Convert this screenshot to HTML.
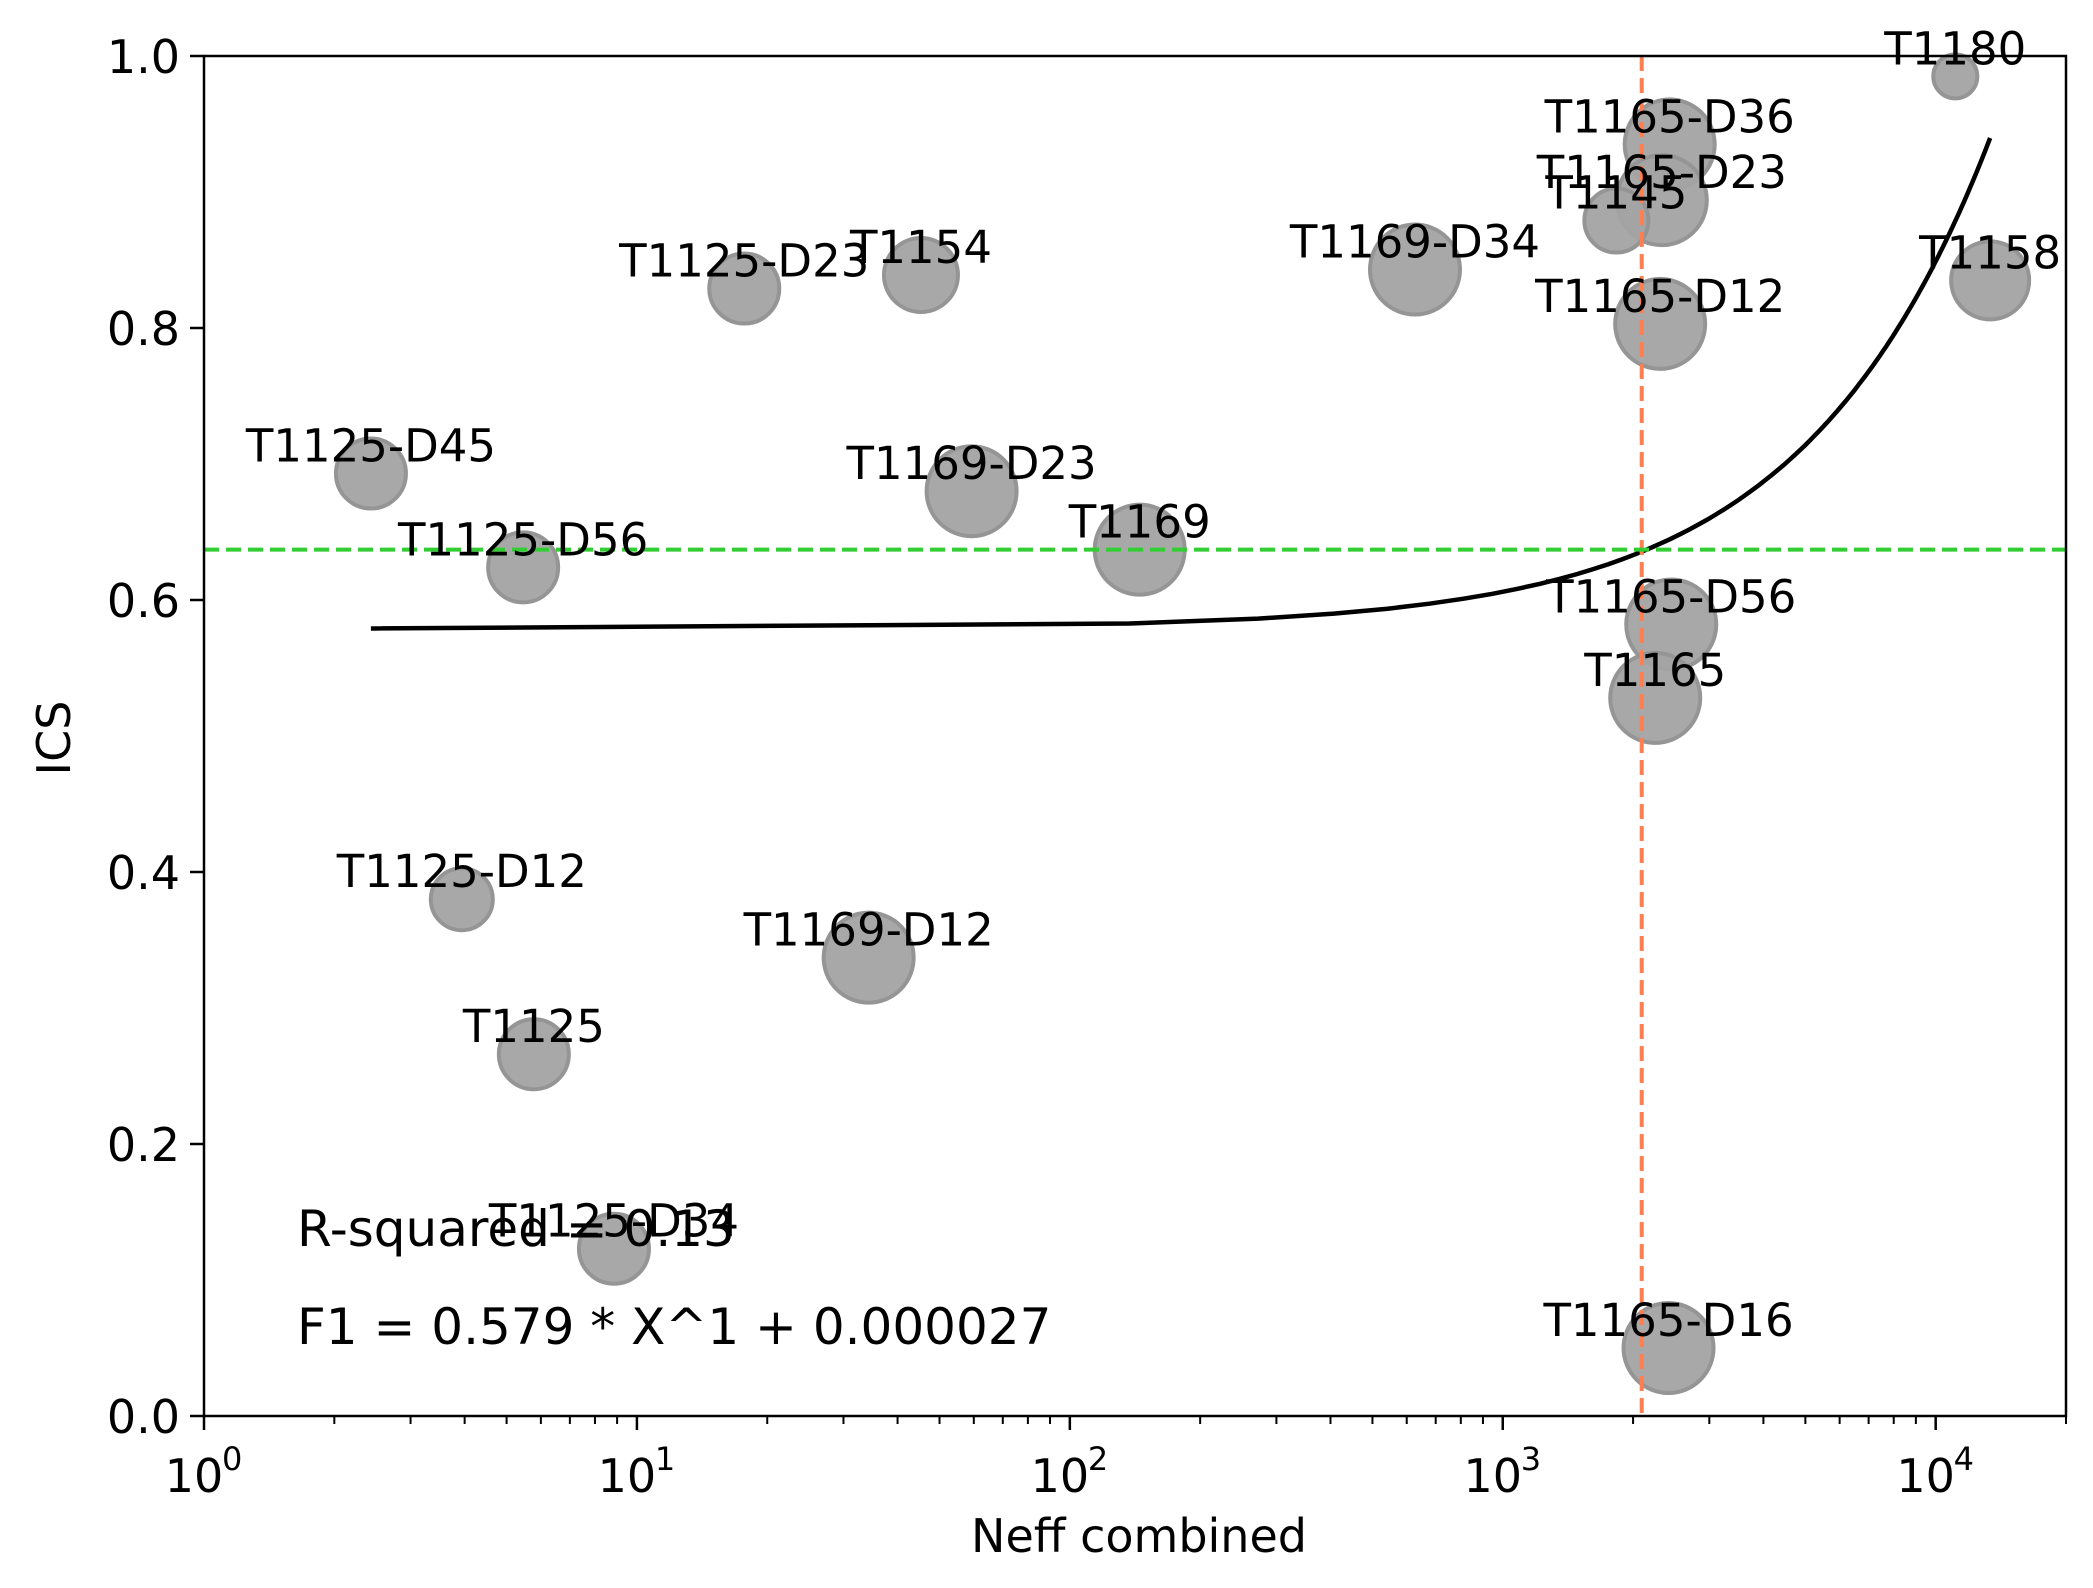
<!DOCTYPE html>
<html><head><meta charset="utf-8"><style>
html,body{margin:0;padding:0;background:#fff;}
svg{display:block;font-family:"DejaVu Sans","Liberation Sans",sans-serif;}
</style></head><body>
<svg id="chart" width="2093" height="1588" viewBox="0 0 2093 1588" xmlns="http://www.w3.org/2000/svg">
<rect x="0" y="0" width="2093" height="1588" fill="#fff"/>
<g id="plot"></g>
</svg>
<script>
const labels = ["T1180","T1165-D36","T1165-D23","T1145","T1158","T1165-D12","T1169-D34","T1154","T1125-D23","T1125-D45","T1169-D23","T1169","T1125-D56","T1165-D56","T1165","T1125-D12","T1169-D12","T1125","T1125-D34","T1165-D16"];
const neff = [11100,2430,2330,1830,13360,2310,627,45.3,17.7,2.43,59.3,145,5.46,2450,2250,3.94,34.3,5.78,8.85,2415];
const ics = [0.985,0.935,0.894,0.879,0.835,0.803,0.843,0.839,0.829,0.693,0.680,0.637,0.624,0.582,0.528,0.380,0.337,0.266,0.123,0.050];
const sizes = [22,45,45,32,39,45,45,37,35,35,45,45,35,45,45,31,45,35,35,45];
const fitA = 0.579, fitB = 0.000027;
const vLineX = 2094, hLineY = 0.637;
const yTicks = [0.0,0.2,0.4,0.6,0.8,1.0];
const xTickExps = [0,1,2,3,4];
const xMin = 1, xMax = 20000;

const L=204,R=2066,T=56,B=1416;
const NS="http://www.w3.org/2000/svg";
const g=document.getElementById('plot');
const lmin=Math.log10(xMin), lmax=Math.log10(xMax);
function sx(v){return L+(Math.log10(v)-lmin)/(lmax-lmin)*(R-L);}
function sy(v){return B-v*(B-T);}
function mk(tag,attrs,parent){const e=document.createElementNS(NS,tag);for(const k in attrs)e.setAttribute(k,attrs[k]);(parent||g).appendChild(e);return e;}

const defs=mk('defs',{});
const cp=mk('clipPath',{id:'clip'},defs);
mk('rect',{x:L,y:T,width:R-L,height:B-T},cp);

let pts=[];
const fmin=Math.min(...neff), fmax=Math.max(...neff);
for(let i=0;i<100;i++){const x=fmin+(fmax-fmin)*i/99;pts.push(sx(x).toFixed(1)+','+sy(fitA+fitB*x).toFixed(1));}
const fit=mk('polyline',{points:pts.join(' '),fill:'none',stroke:'#000','stroke-width':4.5,'clip-path':'url(#clip)'});



for(let i=0;i<labels.length;i++){
  const c=mk('circle',{cx:sx(neff[i]),cy:sy(ics[i]),r:sizes[i],fill:'#a3a3a3',stroke:'#959595','stroke-width':4,'fill-opacity':0.95});
  
  
}
const vl=mk('line',{x1:sx(vLineX),x2:sx(vLineX),y1:T,y2:B,stroke:'#ff7f50','stroke-width':4,'stroke-dasharray':'15 7'});


const hl=mk('line',{x1:L,x2:R,y1:sy(hLineY),y2:sy(hLineY),stroke:'#32cd32','stroke-width':4,'stroke-dasharray':'15 7'});


for(let i=0;i<labels.length;i++){
  const t=mk('text',{x:sx(neff[i]),y:sy(ics[i])-12,'text-anchor':'middle','font-size':45,fill:'#000'});
  t.textContent=labels[i];
  
  
}
const fr=mk('rect',{x:L,y:T,width:R-L,height:B-T,fill:'none',stroke:'#000','stroke-width':2.5});


for(const v of yTicks){
  mk('line',{x1:L-14,x2:L,y1:sy(v),y2:sy(v),stroke:'#000','stroke-width':2.5});
  const t=mk('text',{x:L-24,y:sy(v)+17,'text-anchor':'end','font-size':46});
  t.textContent=v.toFixed(1);
  
  
}
for(const e of xTickExps){
  const x=sx(Math.pow(10,e));
  mk('line',{x1:x,x2:x,y1:B,y2:B+14,stroke:'#000','stroke-width':2.5});
  const t=mk('text',{x:x-10,y:1492,'text-anchor':'middle','font-size':46});
  t.textContent='10';
  
  
  const s=mk('text',{x:x+18,y:1470,'font-size':32});
  s.textContent=String(e);
  
  
  for(let m=2;m<=9;m++){const v=m*Math.pow(10,e);if(v<=xMax)mk('line',{x1:sx(v),x2:sx(v),y1:B,y2:B+8,stroke:'#000','stroke-width':2});}
}
const xt=mk('text',{x:1139,y:1552,'text-anchor':'middle','font-size':46});
xt.textContent='Neff combined';


const yt=mk('text',{x:0,y:0,'text-anchor':'middle','font-size':46,transform:'translate(70,738) rotate(-90)'});
yt.textContent='ICS';


const r2=mk('text',{x:297,y:1246,'font-size':50});
r2.textContent='R-squared = 0.13';


const f1=mk('text',{x:297,y:1344,'font-size':50});
f1.textContent='F1 = 0.579 * X^1 + 0.000027';


</script>
</body></html>
